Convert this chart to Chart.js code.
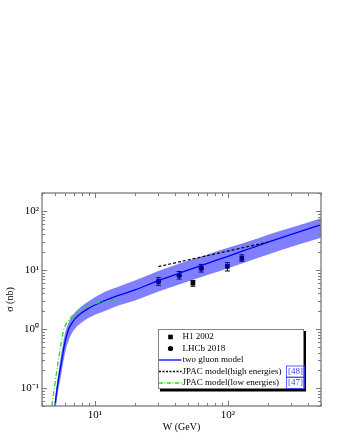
<!DOCTYPE html>
<html lang="en">
<head>
<meta charset="UTF-8">
<title>Cross section vs W</title>
<script src="https://cdn.jsdelivr.net/npm/chart.js"></script>
<style>
  body { margin: 0; background: #fff; }
  #wrap { width: 340px; height: 440px; }
</style>
</head>
<body>
<div id="wrap"><canvas id="sigmaChart"></canvas></div>
<script>
// two gluon model: central curve and its uncertainty band
const modelW     = [5.0, 5.2, 5.6, 6.0, 6.35, 7.0, 8.0, 9.0, 10, 12, 15, 20, 30, 50, 70, 100, 150, 200, 300, 500];
const modelSigma = [0.05, 0.1, 0.28, 0.65, 1.0, 1.45, 1.9, 2.25, 2.55, 3.05, 3.7, 4.6, 6.6, 9.9, 12.9, 17, 23.5, 29.5, 40, 58];
const bandUpper  = [0.065, 0.13, 0.4, 0.9, 1.3, 1.85, 2.45, 2.95, 3.45, 4.3, 5.2, 6.6, 9.6, 14.3, 18.3, 23.8, 31.5, 39.5, 52, 75];
const bandLower  = [0.035, 0.07, 0.18, 0.42, 0.65, 0.98, 1.3, 1.55, 1.75, 2.05, 2.5, 3.05, 4.3, 6.4, 8.2, 10.7, 14.6, 18.2, 24.7, 35];

// JPAC model curves
const jpacHighW     = [30, 200];
const jpacHighSigma = [11.4, 29.6];
const jpacLowW      = [4.75, 4.95, 5.25, 5.55, 5.85, 6.5, 7.3, 8.4, 9.6, 12, 14.6];
const jpacLowSigma  = [0.05, 0.1, 0.25, 0.55, 1.0, 1.5, 1.95, 2.35, 2.63, 2.92, 3.05];

// measurements
const h1W     = [54.5, 99, 127];
const h1Sigma = [6.0, 11.5, 15.7];
const h1Lo    = [5.3, 9.6, 14.0];
const h1Hi    = [6.6, 13.3, 18.0];
const lhcbW     = [30, 43, 63];
const lhcbSigma = [6.4, 8.1, 10.7];
const lhcbLo    = [5.5, 7.0, 9.2];
const lhcbHi    = [7.4, 9.4, 12.4];

// axes
const xTicks = [10, 100];
const yTicks = [0.1, 1, 10, 100];
const tickText = { 0.1: '10⁻¹', 1: '10⁰', 10: '10¹', 100: '10²' };

const serif = "'Liberation Serif', 'Times New Roman', serif";
const xy = (ws, ss) => ws.map((w, i) => ({ x: w, y: ss[i] }));

// error bars, drawn under the band
const errorBars = {
  id: 'errorBars',
  beforeDatasetsDraw(chart) {
    const { ctx, scales: { x, y } } = chart;
    ctx.save();
    ctx.strokeStyle = '#000';
    ctx.lineWidth = 1;
    [[h1W, h1Lo, h1Hi], [lhcbW, lhcbLo, lhcbHi]].forEach(([ws, lo, hi]) => {
      ws.forEach((w, i) => {
        const px = x.getPixelForValue(w);
        const y0 = y.getPixelForValue(lo[i]);
        const y1 = y.getPixelForValue(hi[i]);
        ctx.beginPath();
        ctx.moveTo(px, y0); ctx.lineTo(px, y1);
        ctx.moveTo(px - 2.5, y0); ctx.lineTo(px + 2.5, y0);
        ctx.moveTo(px - 2.5, y1); ctx.lineTo(px + 2.5, y1);
        ctx.stroke();
      });
    });
    ctx.restore();
  }
};

// frame with inward ticks on all four sides
const frameTicks = {
  id: 'frameTicks',
  afterDatasetsDraw(chart) {
    const { ctx, chartArea: a, scales: { x, y } } = chart;
    ctx.save();
    ctx.strokeStyle = '#7a7a7a';
    ctx.lineWidth = 1;
    ctx.beginPath();
    for (let d = -2; d <= 3; d++) {
      for (let m = 1; m <= 9; m++) {
        const v = m * Math.pow(10, d);
        const len = m === 1 ? 5 : 3;
        if (v >= x.min && v <= x.max) {
          const px = Math.round(x.getPixelForValue(v)) + 0.5;
          ctx.moveTo(px, a.bottom); ctx.lineTo(px, a.bottom - len);
          ctx.moveTo(px, a.top); ctx.lineTo(px, a.top + len);
        }
        if (v >= y.min && v <= y.max) {
          const py = Math.round(y.getPixelForValue(v)) + 0.5;
          ctx.moveTo(a.left, py); ctx.lineTo(a.left + len, py);
          ctx.moveTo(a.right, py); ctx.lineTo(a.right - len, py);
        }
      }
    }
    ctx.stroke();
    ctx.lineWidth = 1.3;
    ctx.strokeRect(a.left, a.top, a.right - a.left, a.bottom - a.top);
    ctx.restore();
  }
};

// framed legend with drop shadow
const legendBox = {
  id: 'legendBox',
  afterDraw(chart) {
    const ctx = chart.ctx;
    const left = 158, top = 329, w = 146, h = 60;
    ctx.save();
    ctx.fillStyle = '#000';
    ctx.fillRect(left + 2, top + 2, w, h + 0.5);
    ctx.fillStyle = '#fff';
    ctx.fillRect(left, top, w, h);
    ctx.strokeStyle = '#666';
    ctx.lineWidth = 0.8;
    ctx.strokeRect(left + 0.5, top + 0.5, w - 1, h - 1);

    const rows = [337, 348.5, 360, 371.5, 383];
    const symX = 170.5, lineX0 = 159, lineX1 = 181.5, textX = 182.5;
    ctx.font = '9px ' + serif;
    ctx.textBaseline = 'middle';
    ctx.fillStyle = '#000';

    // H1 square
    ctx.fillRect(symX - 2.3, rows[0] - 2.3, 4.6, 4.6);
    ctx.fillText('H1 2002', textX, rows[0]);
    // LHCb circle
    ctx.beginPath(); ctx.arc(symX, rows[1], 2.6, 0, Math.PI * 2); ctx.fill();
    ctx.fillText('LHCb 2018', textX, rows[1]);

    const lineRow = (r, color, dash) => {
      ctx.strokeStyle = color; ctx.lineWidth = 1.3; ctx.setLineDash(dash);
      ctx.beginPath(); ctx.moveTo(lineX0, r); ctx.lineTo(lineX1, r); ctx.stroke();
      ctx.setLineDash([]);
    };
    lineRow(rows[2], '#0000ff', []);
    ctx.fillText('two gluon model', textX, rows[2]);
    lineRow(rows[3], '#000', [2, 1.5]);
    ctx.fillText('JPAC model(high energies)', textX, rows[3]);
    lineRow(rows[4], '#22e022', [4, 1.5, 1, 1.5]);
    ctx.fillText('JPAC model(low energies)', textX, rows[4]);

    // reference tags
    ctx.fillStyle = '#3b3bff';
    ctx.strokeStyle = '#3b3bff';
    ctx.lineWidth = 0.8;
    [['[48]', rows[3]], ['[47]', rows[4]]].forEach(([t, r]) => {
      const tw = ctx.measureText(t).width;
      ctx.fillText(t, 288, r);
      ctx.strokeRect(286.5, r - 5.5, tw + 3, 11);
    });
    ctx.restore();
  }
};

new Chart(document.getElementById('sigmaChart'), {
  type: 'line',
  data: {
    datasets: [
      { label: 'JPAC model(low energies)', data: xy(jpacLowW, jpacLowSigma),
        borderColor: '#22e022', borderWidth: 1.3, borderDash: [5, 2, 1, 2],
        pointRadius: 0, cubicInterpolationMode: 'monotone', fill: false },
      { label: 'JPAC model(high energies)', data: xy(jpacHighW, jpacHighSigma),
        borderColor: '#000', borderWidth: 1.2, borderDash: [3, 2],
        pointRadius: 0, fill: false },
      { label: 'two gluon model', data: xy(modelW, modelSigma),
        borderColor: '#0000ff', borderWidth: 1.3,
        pointRadius: 0, cubicInterpolationMode: 'monotone', fill: false },
      { label: 'band upper', data: xy(modelW, bandUpper),
        borderColor: 'transparent', borderWidth: 0, pointRadius: 0,
        cubicInterpolationMode: 'monotone',
        backgroundColor: 'rgba(0,0,255,0.5)', fill: '+1' },
      { label: 'band lower', data: xy(modelW, bandLower),
        borderColor: 'transparent', borderWidth: 0, pointRadius: 0,
        cubicInterpolationMode: 'monotone', fill: false },
      { label: 'H1 2002', data: xy(h1W, h1Sigma), showLine: false,
        pointStyle: 'rect', pointRadius: 3.3, borderWidth: 0,
        backgroundColor: '#000', borderColor: '#000' },
      { label: 'LHCb 2018', data: xy(lhcbW, lhcbSigma), showLine: false,
        pointStyle: 'circle', pointRadius: 2.7, borderWidth: 0,
        backgroundColor: '#000', borderColor: '#000' }
    ]
  },
  options: {
    responsive: true,
    maintainAspectRatio: false,
    animation: false,
    layout: { padding: { top: 193, right: 19, left: 0, bottom: 0 } },
    plugins: { legend: { display: false }, tooltip: { enabled: false } },
    scales: {
      x: {
        type: 'logarithmic', min: 4, max: 500,
        grid: { display: false, drawTicks: false },
        border: { display: false },
        afterBuildTicks: s => { s.ticks = xTicks.map(v => ({ value: v })); },
        afterFit: s => { s.height = 34; },
        ticks: { autoSkip: false, maxRotation: 0, padding: 3, color: '#000',
                 font: { family: serif, size: 11 }, callback: v => tickText[v] || '' },
        title: { display: true, text: 'W (GeV)', color: '#000',
                 font: { family: serif, size: 10 }, padding: { top: 2, bottom: 7 } }
      },
      y: {
        type: 'logarithmic', min: 0.05, max: 200,
        grid: { display: false, drawTicks: false },
        border: { display: false },
        afterBuildTicks: s => { s.ticks = yTicks.map(v => ({ value: v })); },
        afterFit: s => { s.width = 42; },
        ticks: { autoSkip: false, padding: 3, color: '#000',
                 font: { family: serif, size: 11 }, callback: v => tickText[v] || '' },
        title: { display: true, text: 'σ (nb)', color: '#000',
                 font: { family: serif, size: 10 }, padding: { top: 4, bottom: 2 } }
      }
    }
  },
  plugins: [errorBars, frameTicks, legendBox]
});
</script>
</body>
</html>
